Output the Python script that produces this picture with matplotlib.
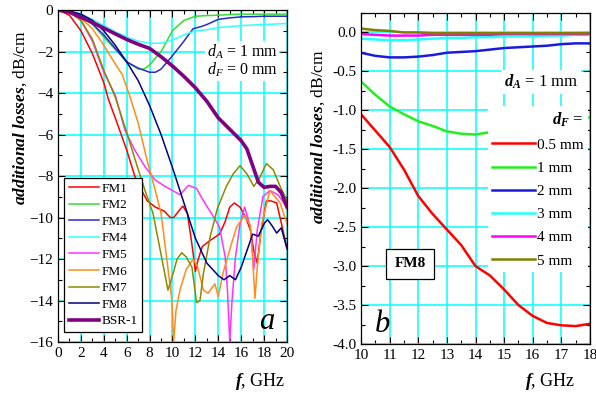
import numpy as np
import matplotlib
matplotlib.use('Agg')
import matplotlib.pyplot as plt
from matplotlib.ticker import MultipleLocator

plt.rcParams['font.family'] = ['Liberation Serif', 'DejaVu Serif']
plt.rcParams['mathtext.fontset'] = 'custom'
plt.rcParams['mathtext.rm'] = 'Liberation Serif'
plt.rcParams['mathtext.it'] = 'Liberation Serif:italic'
plt.rcParams['mathtext.bf'] = 'Liberation Serif:bold'
plt.rcParams['mathtext.bfit'] = 'Liberation Serif:italic:bold'

# ---- panel a : d_A = 1 mm, d_F = 0 mm ----
f_fm1 = [0, 1, 2, 3, 4, 4.4, 5, 6, 6.7, 7.2, 7.8, 8.5, 9.3, 9.8, 10.1, 10.6, 10.9, 11.3, 11.7, 12.0, 12.2, 12.6,
         13.3, 14.1, 14.6, 15.0, 15.4, 15.9, 16.4, 16.8, 17.1, 17.4, 17.7, 18.2, 18.6, 19.1, 19.6, 20]
l_fm1 = [0, -0.25, -1.0, -2.1, -3.5, -4.3, -5.2, -6.75, -8.0, -8.6, -9.2, -9.5, -9.7, -10.0, -10.0, -9.65, -9.45,
         -9.8, -11.3, -12.6, -12.1, -11.4, -11.1, -10.8, -10.2, -9.5, -9.3, -9.5, -10.0, -10.6, -11.6, -12.2, -10.8,
         -9.2, -9.2, -9.3, -10.5, -11.5]

f_fm2 = [0, 1, 2, 3, 4, 5, 6, 7, 7.5, 8, 9, 10, 11, 12, 13, 14, 15, 16, 17, 18, 19, 20]
l_fm2 = [0, -0.05, -0.25, -0.7, -1.3, -1.9, -2.5, -2.85, -2.85, -2.65, -2.0, -1.0, -0.5, -0.3, -0.27, -0.25,
         -0.22, -0.2, -0.2, -0.2, -0.2, -0.2]

f_fm3 = [0, 1, 2, 3, 4, 5, 6, 7, 8, 8.5, 9, 10, 11, 11.8, 12.5, 13, 14, 15, 16, 17, 18, 19, 20]
l_fm3 = [0, -0.05, -0.25, -0.65, -1.2, -1.85, -2.5, -2.8, -3.0, -3.0, -2.85, -2.2, -1.5, -0.9, -0.8, -0.7,
         -0.45, -0.38, -0.33, -0.32, -0.3, -0.3, -0.3]

f_fm4 = [0, 1, 2, 3, 4, 5, 6, 7, 8, 9, 10, 11, 12, 13, 14, 16, 18, 20]
l_fm4 = [0, -0.05, -0.2, -0.45, -0.75, -1.05, -1.3, -1.5, -1.6, -1.6, -1.45, -1.2, -1.0, -0.95, -0.85, -0.75,
         -0.7, -0.65]

f_fm5 = [0, 1, 2, 3, 4, 5, 5.85, 6.7, 7.6, 8.5, 9.35, 10, 10.65, 11.4, 12.1, 12.6, 13.5, 14.1, 14.6, 14.8, 15.0,
         15.2, 15.5, 15.9, 16.3, 16.8, 17.1, 17.4, 17.9, 18.5, 19.2, 20]
l_fm5 = [0, -0.1, -0.5, -1.5, -3.0, -4.1, -5.8, -6.75, -7.55, -8.2, -8.5, -8.7, -8.9, -8.45, -8.6, -9.1, -9.9,
         -10.45, -11.9, -13.5, -16.0, -14.0, -11.9, -10.3, -9.5, -10.45, -12.5, -10.6, -9.0, -8.7, -8.9, -9.5]

f_fm6 = [0, 1, 2, 3, 4, 5, 5.6, 6.3, 7.0, 7.85, 8.5, 9.0, 9.5, 9.95, 10.1, 10.3, 10.65, 11.2, 11.8, 12.2, 12.7,
         13.1, 13.7, 14.0, 14.4, 15.0, 15.6, 16.3, 16.8, 17.0, 17.2, 17.4, 17.8, 18.5, 19.4, 20]
l_fm6 = [0, -0.1, -0.4, -0.9, -1.7, -2.6, -3.1, -4.2, -5.45, -7.4, -8.7, -9.8, -12.0, -14.0, -16.0, -14.5, -13.5,
         -12.5, -12.0, -12.4, -13.5, -13.65, -13.2, -13.8, -12.7, -11.55, -10.45, -9.9, -10.4, -12.0, -13.9,
         -12.4, -10.3, -8.7, -9.3, -10.3]

f_fm7 = [0, 1, 2, 3, 4, 5, 6, 6.9, 7.6, 8.3, 8.9, 9.6, 10.0, 10.4, 10.8, 11.2, 11.7, 12.1, 12.4, 12.7, 13.3,
         13.9, 14.7, 15.3, 15.9, 16.5, 17.1, 17.6, 18.2, 18.8, 19.4, 20]
l_fm7 = [0, -0.1, -0.5, -1.4, -2.9, -4.2, -5.9, -7.5, -8.7, -9.8, -11.5, -13.5, -12.8, -12.0, -11.7, -11.9, -12.4,
         -14.1, -14.0, -12.7, -10.9, -9.6, -8.5, -7.9, -7.5, -7.9, -8.5, -8.1, -7.4, -7.7, -8.5, -9.2]

f_fm8 = [0, 1, 2, 3, 4, 5, 6, 7, 8, 9, 10, 11, 12, 12.5, 13, 13.5, 14, 14.5, 15, 15.5, 16, 16.5, 17, 17.5, 18,
         18.3, 18.7, 19.1, 19.5, 20]
l_fm8 = [0, -0.05, -0.2, -0.5, -1.0, -1.7, -2.5, -3.4, -4.6, -6.0, -7.6, -9.3, -11.0, -11.6, -12.2, -12.5, -12.8,
         -13.0, -12.8, -13.0, -12.4, -11.6, -10.8, -10.9, -10.3, -10.1, -10.4, -10.75, -10.5, -11.5]

f_bsr = [0, 1, 2, 3, 4, 5, 6, 7, 8, 9, 10, 11, 12, 13, 14, 15, 16, 16.5, 17, 17.5, 18, 18.5, 19, 19.5, 20]
l_bsr = [0, -0.1, -0.35, -0.6, -0.87, -1.15, -1.42, -1.65, -1.85, -2.25, -2.7, -3.2, -3.75, -4.4, -5.2, -5.75,
         -6.3, -6.7, -7.5, -8.3, -8.55, -8.5, -8.5, -8.8, -9.5]

names_a = ['FM1', 'FM2', 'FM3', 'FM4', 'FM5', 'FM6', 'FM7', 'FM8', 'BSR-1']
colors_a = ['#ff0000', '#33dd33', '#2a2acc', '#33ffff', '#ff33ff', '#ff8c1a', '#8a8a00', '#00007a', '#800080']

# ---- panel b : FM8, d_A = 1 mm, various d_F ----
f_b = [10, 10.5, 11, 11.5, 12, 12.5, 13, 13.5, 14, 14.5, 15, 15.5, 16, 16.5, 17, 17.5, 18]
l_05 = [-1.05, -1.26, -1.47, -1.76, -2.1, -2.33, -2.53, -2.73, -3.0, -3.12, -3.3, -3.5, -3.64, -3.73, -3.76,
        -3.77, -3.74]
l_1 = [-0.63, -0.8, -0.95, -1.05, -1.14, -1.2, -1.27, -1.3, -1.31, -1.28, -1.27, -1.25, -1.21, -1.17, -1.13,
       -1.1, -1.09]
l_2 = [-0.26, -0.3, -0.32, -0.32, -0.31, -0.29, -0.26, -0.25, -0.24, -0.22, -0.2, -0.19, -0.18, -0.17, -0.15,
       -0.14, -0.14]
l_3 = [-0.08, -0.09, -0.1, -0.1, -0.09, -0.08, -0.07, -0.07, -0.06, -0.06, -0.05, -0.05, -0.05, -0.04, -0.04,
       -0.03, -0.03]
l_4 = [-0.02, -0.03, -0.04, -0.04, -0.04, -0.03, -0.03, -0.03, -0.03, -0.03, -0.02, -0.02, -0.02, -0.02, -0.02,
       -0.02, -0.02]
l_5 = [0.05, 0.03, 0.02, 0.0, 0.0, -0.01, -0.01, -0.01, -0.01, -0.01, -0.01, -0.01, -0.01, -0.01, -0.01, -0.01,
       -0.01]
names_b = ['0.5 mm', '1 mm', '2 mm', '3 mm', '4 mm', '5 mm']
colors_b = ['#ff0000', '#22ee22', '#1a1add', '#22ffff', '#ff00ff', '#808000']

fig = plt.figure(figsize=(5.96, 3.94), dpi=100, facecolor='white')
ax1 = fig.add_axes([58 / 596, 1 - 342 / 394, 229 / 596, 332 / 394])
ax2 = fig.add_axes([361 / 596, 1 - 344 / 394, 229 / 596, 331 / 394])


def style_axes(ax):
    ax.grid(True, which='major', color='#00ffff', linewidth=1.1)
    ax.set_axisbelow(True)
    ax.tick_params(which='both', direction='in', top=True, right=True, labelsize=11, width=0.8)
    ax.tick_params(which='major', length=5)
    ax.tick_params(which='minor', length=3)
    for sp in ax.spines.values():
        sp.set_linewidth(0.9)


series_a = [(f_fm1, l_fm1), (f_fm2, l_fm2), (f_fm3, l_fm3), (f_fm4, l_fm4), (f_fm5, l_fm5),
            (f_fm6, l_fm6), (f_fm7, l_fm7), (f_fm8, l_fm8), (f_bsr, l_bsr)]
for (fx, ly), name, c in zip(series_a, names_a, colors_a):
    lw = 2.6 if name == 'BSR-1' else 1.1
    ax1.plot(fx, ly, color=c, lw=lw, label=name)

ax1.set_xlim(0, 20)
ax1.set_ylim(-16, 0)
ax1.xaxis.set_major_locator(MultipleLocator(2))
ax1.xaxis.set_minor_locator(MultipleLocator(1))
ax1.yaxis.set_major_locator(MultipleLocator(2))
ax1.yaxis.set_minor_locator(MultipleLocator(1))
style_axes(ax1)
leg1 = ax1.legend(loc='lower left', bbox_to_anchor=(0.026, 0.03), borderaxespad=0, fontsize=9.5,
                  labelspacing=0.33, handlelength=2.3, handletextpad=0.2, borderpad=0.35,
                  fancybox=False, edgecolor='black', framealpha=1)
leg1.get_frame().set_linewidth(0.9)
ax1.text(13.0, -2.0, '$d_A$ = 1 mm', fontsize=11.5, va='center', ha='left',
         bbox=dict(facecolor='white', edgecolor='none', pad=1))
ax1.text(13.0, -2.9, '$d_F$ = 0 mm', fontsize=11.5, va='center', ha='left',
         bbox=dict(facecolor='white', edgecolor='none', pad=1))
ax1.text(18.25, -15.0, 'a', fontsize=22, style='italic', ha='center', va='center')

series_b = [l_05, l_1, l_2, l_3, l_4, l_5]
for ly, name, c in zip(series_b, names_b, colors_b):
    ax2.plot(f_b, ly, color=c, lw=1.8, label=name)

ax2.set_xlim(10, 18)
ax2.set_ylim(-4.0, 0.25)
ax2.xaxis.set_major_locator(MultipleLocator(1))
ax2.xaxis.set_minor_locator(MultipleLocator(0.5))
ax2.yaxis.set_major_locator(MultipleLocator(0.5))
ax2.yaxis.set_minor_locator(MultipleLocator(0.25))
ax2.yaxis.set_major_formatter(matplotlib.ticker.FormatStrFormatter('%.1f'))
style_axes(ax2)
leg2 = ax2.legend(loc='upper right', bbox_to_anchor=(0.99, 0.72), borderaxespad=0, fontsize=11,
                  title=r'$\mathbfit{d}_{\mathbfit{F}}$ =', title_fontsize=12, alignment='right',
                  labelspacing=0.62, handlelength=2.8, handletextpad=0.1, borderpad=0.3,
                  fancybox=False, edgecolor='none', facecolor='white', framealpha=1)
ax2.text(17.6, -0.63, r'$\mathbfit{d}_{\mathbfit{A}}$ = 1 mm', fontsize=12, va='center', ha='right',
         bbox=dict(facecolor='white', edgecolor='none', pad=2))
ax2.text(11.71, -2.97, 'FM8', fontsize=11, fontweight='bold', ha='center', va='center',
         bbox=dict(facecolor='white', edgecolor='black', pad=6, linewidth=0.9))
ax2.text(10.75, -3.75, 'b', fontsize=22, style='italic', ha='center', va='center')

ylab = r'$\mathbfit{additional\ losses}$, dB/cm'
fig.text(20 / 596, 1 - 118 / 394, ylab, rotation=90, ha='center', va='center', fontsize=12.5)
fig.text(318 / 596, 1 - 137 / 394, ylab, rotation=90, ha='center', va='center', fontsize=12.5)
fig.text(285 / 596, 1 - 381 / 394, r'$\mathbfit{f}$, GHz', ha='right', va='center', fontsize=13)
fig.text(575 / 596, 1 - 381 / 394, r'$\mathbfit{f}$, GHz', ha='right', va='center', fontsize=13)

fig.savefig('out.png', dpi=100, facecolor='white')
